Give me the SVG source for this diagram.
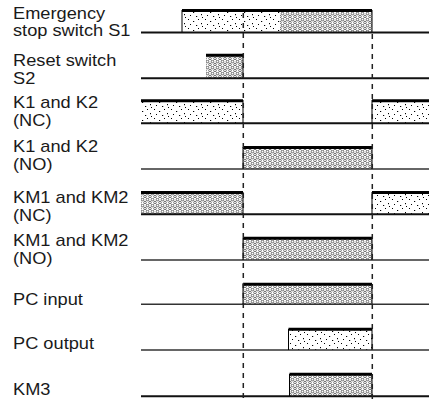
<svg xmlns="http://www.w3.org/2000/svg" width="429" height="399" viewBox="0 0 429 399">
<style>
.lbl{font-family:"Liberation Sans",Arial,sans-serif;font-size:16px;fill:#1a1a1a}
.base{stroke:#111;stroke-width:2;fill:none}
.thin{stroke:#333;stroke-width:1.5;fill:none}
.top{stroke:#000;stroke-width:3;fill:none}
.edge{stroke:#000;stroke-width:1;fill:none}
.dash{stroke:#222;stroke-width:1.5;stroke-dasharray:5 5;fill:none}
.fc{fill:url(#circ)}
.fs{fill:url(#sparse)}
</style>
<defs>
<pattern id="circ" width="5" height="6" patternUnits="userSpaceOnUse">
<rect width="5" height="6" fill="#fff"/>
<circle cx="2.5" cy="1.5" r="1.3" fill="none" stroke="#000" stroke-width="0.55"/>
<circle cx="0" cy="4.5" r="1.3" fill="none" stroke="#000" stroke-width="0.55"/>
<circle cx="5" cy="4.5" r="1.3" fill="none" stroke="#000" stroke-width="0.55"/>
</pattern>
<pattern id="sparse" width="17" height="9" patternUnits="userSpaceOnUse">
<rect width="17" height="9" fill="#fff"/>
<rect x="1" y="1" width="1" height="1" fill="#000"/>
<rect x="6" y="3" width="1.2" height="1" fill="#000"/>
<rect x="11" y="1" width="1" height="1" fill="#000"/>
<rect x="14" y="5" width="1" height="1.2" fill="#000"/>
<rect x="3" y="6" width="1" height="1" fill="#000"/>
<rect x="9" y="7" width="1.2" height="1" fill="#000"/>
<rect x="15" y="8" width="1" height="1" fill="#000"/>
</pattern>
</defs>

<g id="labels" transform="scale(1.14 1)">
<g id="lbl-s1"><text class="lbl" x="11.4" y="19">Emergency</text><text class="lbl" x="11.4" y="36.5">stop switch S1</text></g>
<g id="lbl-s2"><text class="lbl" x="11.4" y="66">Reset switch</text><text class="lbl" x="11.4" y="84">S2</text></g>
<g id="lbl-k-nc"><text class="lbl" x="11.4" y="108.5">K1 and K2</text><text class="lbl" x="11.4" y="126.5">(NC)</text></g>
<g id="lbl-k-no"><text class="lbl" x="11.4" y="152">K1 and K2</text><text class="lbl" x="11.4" y="170">(NO)</text></g>
<g id="lbl-km-nc"><text class="lbl" x="11.4" y="203">KM1 and KM2</text><text class="lbl" x="11.4" y="221">(NC)</text></g>
<g id="lbl-km-no"><text class="lbl" x="11.4" y="246">KM1 and KM2</text><text class="lbl" x="11.4" y="264">(NO)</text></g>
<g id="lbl-pcin"><text class="lbl" x="11.4" y="305.5">PC input</text></g>
<g id="lbl-pcout"><text class="lbl" x="11.4" y="349.5">PC output</text></g>
<g id="lbl-km3"><text class="lbl" x="11.4" y="395.5">KM3</text></g>
</g>

<g id="sig-s1">
<rect class="fs" x="182" y="11" width="98" height="21"/>
<rect class="fc" x="280" y="11" width="92" height="21"/>
<line class="base" x1="141" y1="32.5" x2="429" y2="32.5"/>
<line class="edge" x1="182" y1="10" x2="182" y2="32"/>
<line class="edge" x1="372" y1="10" x2="372" y2="32"/>
<line class="top" x1="182" y1="10.5" x2="372" y2="10.5"/>
</g>

<g id="sig-s2">
<rect class="fc" x="206" y="56" width="37" height="22"/>
<line class="base" x1="141" y1="78.3" x2="429" y2="78.3"/>
<line class="edge" x1="243" y1="55" x2="243" y2="78"/>
<line class="top" x1="206" y1="55.2" x2="243" y2="55.2"/>
</g>

<g id="sig-k-nc">
<rect class="fs" x="141" y="101" width="102" height="22"/>
<rect class="fs" x="372" y="101" width="57" height="22"/>
<line class="base" x1="141" y1="123.3" x2="429" y2="123.3"/>
<line class="top" x1="141" y1="100.7" x2="243" y2="100.7"/>
<line class="top" x1="372" y1="100.7" x2="429" y2="100.7"/>
<line class="edge" x1="243" y1="100" x2="243" y2="123"/>
<line class="edge" x1="372" y1="100" x2="372" y2="123"/>
</g>

<g id="sig-k-no">
<rect class="fc" x="243" y="148" width="129" height="21"/>
<line class="thin" x1="141" y1="169" x2="429" y2="169"/>
<line class="edge" x1="243" y1="147" x2="243" y2="169"/>
<line class="edge" x1="372" y1="147" x2="372" y2="169"/>
<line class="top" x1="243" y1="147.5" x2="372" y2="147.5"/>
</g>

<g id="sig-km-nc">
<rect class="fc" x="141" y="193" width="102" height="21"/>
<rect class="fs" x="372" y="193" width="57" height="21"/>
<line class="base" x1="141" y1="214.3" x2="429" y2="214.3"/>
<line class="top" x1="141" y1="192.5" x2="243" y2="192.5"/>
<line class="top" x1="372" y1="192.5" x2="429" y2="192.5"/>
<line class="edge" x1="243" y1="192" x2="243" y2="214"/>
<line class="edge" x1="372" y1="192" x2="372" y2="214"/>
</g>

<g id="sig-km-no">
<rect class="fc" x="243" y="239" width="129" height="21"/>
<line class="thin" x1="141" y1="260" x2="429" y2="260"/>
<line class="edge" x1="243" y1="238" x2="243" y2="260"/>
<line class="edge" x1="372" y1="238" x2="372" y2="260"/>
<line class="top" x1="243" y1="238.2" x2="372" y2="238.2"/>
</g>

<g id="sig-pcin">
<rect class="fc" x="243" y="285" width="129" height="19"/>
<line class="thin" x1="141" y1="304.3" x2="429" y2="304.3"/>
<line class="edge" x1="243" y1="284" x2="243" y2="304"/>
<line class="edge" x1="372" y1="284" x2="372" y2="304"/>
<line class="top" x1="243" y1="284.2" x2="372" y2="284.2"/>
</g>

<g id="sig-pcout">
<rect class="fs" x="288.5" y="330" width="83.5" height="20"/>
<line class="thin" x1="141" y1="350" x2="429" y2="350"/>
<line class="edge" x1="288.5" y1="329" x2="288.5" y2="350"/>
<line class="edge" x1="372" y1="329" x2="372" y2="350"/>
<line class="top" x1="288.5" y1="329.2" x2="372" y2="329.2"/>
</g>

<g id="sig-km3">
<rect class="fc" x="289.5" y="375" width="82.5" height="21"/>
<line class="base" x1="141" y1="396.2" x2="429" y2="396.2"/>
<line class="edge" x1="289.5" y1="374" x2="289.5" y2="396"/>
<line class="edge" x1="372" y1="374" x2="372" y2="396"/>
<line class="top" x1="289.5" y1="374.2" x2="372" y2="374.2"/>
</g>

<g id="connectors">
<line class="dash" x1="243.3" y1="13" x2="243.3" y2="399"/>
<line class="dash" x1="372.3" y1="34" x2="372.3" y2="399"/>
</g>
</svg>
